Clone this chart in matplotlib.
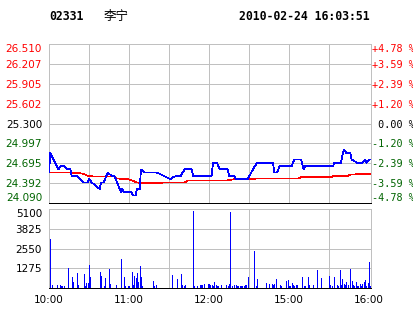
import numpy as np
import matplotlib
matplotlib.use("Agg")
import matplotlib.pyplot as plt

# ---- data ----
code = "02331"
name = "李宁"
stamp = "2010-02-24 16:03:51"
prev_close = 25.300
price_lo, price_hi = 24.090, 26.510

left_labels = ["24.090", "24.392", "24.695", "24.997", "25.300",
               "25.602", "25.905", "26.207", "26.510"]
right_labels = ["-4.78 %", "-3.59 %", "-2.39 %", "-1.20 %", " 0.00 %",
                "+1.20 %", "+2.39 %", "+3.59 %", "+4.78 %"]
vol_ticks = [1275, 2550, 3825, 5100]
time_ticks = [0, 60, 120, 180, 240]
time_labels = ["10:00", "11:00", "12:00", "15:00", "16:00"]

# minutes from 10:00 (lunch break removed)
price_min = [0, 1, 7, 9, 11, 14, 16, 17, 21, 23, 26, 29, 30, 32, 38, 39, 41,
             44, 47, 49, 51, 54, 55, 56, 62, 63, 65, 66, 68, 69, 72, 76, 81,
             86, 91, 93, 96, 99, 100, 102, 107, 108, 120, 122, 123, 126, 128,
             134, 135, 139, 140, 149, 153, 156, 168, 169, 171, 173, 182, 184,
             189, 191, 192, 213, 214, 219, 221, 223, 226, 227, 231, 235, 237,
             238, 240, 241]
price_val = [24.55, 24.85, 24.60, 24.65, 24.65, 24.60, 24.60, 24.50, 24.50,
             24.45, 24.40, 24.40, 24.45, 24.40, 24.30, 24.40, 24.40, 24.55,
             24.50, 24.50, 24.40, 24.25, 24.30, 24.25, 24.25, 24.20, 24.20,
             24.30, 24.30, 24.60, 24.55, 24.55, 24.55, 24.50, 24.45, 24.48,
             24.50, 24.50, 24.55, 24.60, 24.60, 24.50, 24.50, 24.50, 24.70,
             24.70, 24.60, 24.60, 24.50, 24.50, 24.45, 24.45, 24.60, 24.70,
             24.70, 24.55, 24.55, 24.65, 24.65, 24.75, 24.75, 24.60, 24.65,
             24.65, 24.70, 24.70, 24.90, 24.85, 24.85, 24.75, 24.70, 24.70,
             24.75, 24.70, 24.75, 24.75]

avg_min = [0, 16, 22, 26, 29, 34, 49, 51, 59, 62, 66, 69, 84, 86, 102, 104,
           134, 139, 149, 156, 187, 189, 212, 213, 224, 226, 241]
avg_val = [24.55, 24.55, 24.545, 24.53, 24.50, 24.49, 24.49, 24.46, 24.45,
           24.43, 24.40, 24.39, 24.39, 24.40, 24.40, 24.43, 24.43, 24.45,
           24.45, 24.46, 24.46, 24.48, 24.48, 24.50, 24.50, 24.52, 24.53]

vol_min = [1, 2, 6, 8, 9, 10, 11, 14, 17, 18, 21, 22, 26, 27, 28, 29, 30, 31,
           38, 39, 41, 42, 45, 46, 50, 54, 56, 57, 59, 60, 62, 63, 64, 65, 66,
           67, 68, 69, 70, 78, 79, 80, 92, 96, 99, 100, 101, 102, 108, 109,
           111, 113, 114, 115, 116, 119, 120, 121,
           122, 123, 124, 125, 126, 127, 129, 133, 134, 135, 136, 137, 139,
           140, 141, 142, 143, 144, 145, 146, 147, 148, 149, 154, 155, 156,
           163, 165, 167, 168, 169, 170, 173, 174, 178, 179, 180, 181, 182,
           183, 184, 185, 186, 190, 191, 192, 194, 195, 198, 201, 204, 210,
           211, 212, 214, 216, 217, 218, 219, 220, 221, 222, 223, 224, 226,
           227, 228, 229, 230, 231, 232, 233, 234, 235, 236, 237, 238, 239,
           240, 241]
vol_val = [3170, 210, 210, 210, 150, 150, 150, 1310, 730, 410, 990, 210, 920,
           150, 340, 340, 1500, 730, 1050, 790, 150, 660, 1240, 280, 210, 1890,
           730, 150, 150, 150, 1050, 210, 790, 660, 990, 410, 1440, 730, 150,
           470, 150, 210, 860, 600, 920, 210, 150, 210, 4970, 150, 150, 210,
           210, 210, 280, 280, 280, 210,
           210, 150, 410, 210, 150, 150, 210, 210, 150, 280, 4930, 150, 210,
           210, 150, 150, 150, 150, 150, 150, 210, 210, 730, 2400, 150, 600,
           340, 280, 280, 210, 280, 600, 210, 150, 470, 540, 150, 150, 340,
           210, 150, 210, 210, 730, 150, 150, 730, 210, 210, 1180, 660, 790,
           210, 150, 730, 210, 150, 1180, 210, 600, 280, 210, 410, 210, 1240,
           470, 210, 150, 410, 150, 150, 280, 150, 280, 410, 540, 150, 340,
           1690, 150]

RED = "#ff0000"
GREEN = "#006400"
BLUE = "#0000ff"
GRID = "#c0c0c0"
W, H = 414, 314
LW = 0.72  # one pixel at 100 dpi

fig = plt.figure(figsize=(W / 100, H / 100), dpi=100)
ax = fig.add_axes([49 / W, 1 - 202.7 / H, 322 / W, 158.4 / H])
axv = fig.add_axes([49 / W, 1 - 288.3 / H, 322 / W, 79.3 / H])

xmax = 241.5
half_hours = np.arange(30, 211, 30)

# ---- price panel ----
price_ticks = np.linspace(price_lo, price_hi, 9)
ax.set_xlim(0, xmax)
ax.set_ylim(price_lo, price_hi)
ax.set_xticks(half_hours)
ax.set_xticklabels([])
ax.set_yticks(price_ticks, labels=left_labels)
ax.grid(True, color=GRID, lw=LW, antialiased=False, zorder=0)
ax.axhline(prev_close, color="black", lw=LW, antialiased=False, zorder=1)
ax.plot(avg_min, avg_val, color=RED, lw=0.55, antialiased=False,
        solid_joinstyle="miter", zorder=3)
ax.plot(price_min, price_val, color=BLUE, lw=0.55, antialiased=False,
        solid_joinstyle="miter", zorder=4)
ax.tick_params(length=0, pad=5, labelsize=7.5)
for t, p in zip(ax.get_yticklabels(), price_ticks):
    if abs(p - prev_close) < 1e-6:
        t.set_color("black")
    elif p > prev_close:
        t.set_color(RED)
    else:
        t.set_color(GREEN)
ax.get_yticklabels()[0].set_va("bottom")
ax.get_yticklabels()[-1].set_va("top")
for s in ["top", "left", "right"]:
    ax.spines[s].set_color(GRID)
ax.spines["bottom"].set_color("black")
for s in ax.spines.values():
    s.set_linewidth(LW)

axr = ax.twinx()
axr.set_ylim(price_lo, price_hi)
axr.set_yticks(price_ticks, labels=right_labels)
axr.tick_params(length=0, pad=1, labelsize=7.3)
for t in axr.get_yticklabels():
    t.set_family("DejaVu Sans Mono")
    lab = t.get_text()
    t.set_color(RED if lab.startswith("+") else GREEN if lab.startswith("-") else "black")
axr.get_yticklabels()[0].set_va("bottom")
axr.get_yticklabels()[-1].set_va("top")
for s in axr.spines.values():
    s.set_visible(False)

# ---- volume panel ----
axv.set_xlim(0, xmax)
axv.set_ylim(0, vol_ticks[-1])
axv.set_xticks(time_ticks, labels=time_labels)
axv.set_xticks(half_hours, minor=True)
axv.set_yticks(vol_ticks, labels=[str(v) for v in vol_ticks])
axv.grid(True, which="both", color=GRID, lw=LW, antialiased=False, zorder=0)
axv.xaxis.grid(False, which="major")
axv.vlines(vol_min, 0, vol_val, colors=BLUE, lw=LW, antialiased=False, zorder=3)
axv.tick_params(which="both", length=0, pad=5, labelsize=7.5)
axv.get_yticklabels()[-1].set_va("top")
for s in ["top", "left", "right"]:
    axv.spines[s].set_color(GRID)
axv.spines["bottom"].set_color("black")
for s in axv.spines.values():
    s.set_linewidth(LW)

# ---- header ----
fig.text(49 / W, 1 - 16.5 / H, code, family="DejaVu Sans Mono", weight="bold",
         fontsize=8.3, va="center", ha="left")
fig.text(104 / W, 1 - 16.5 / H, name, family=["Noto Sans CJK SC", "DejaVu Sans"],
         fontsize=9, va="center", ha="left")
fig.text(369.5 / W, 1 - 16.5 / H, stamp, family="DejaVu Sans Mono", weight="bold",
         fontsize=8.3, va="center", ha="right")

fig.savefig("out.png", dpi=100, facecolor="white")
